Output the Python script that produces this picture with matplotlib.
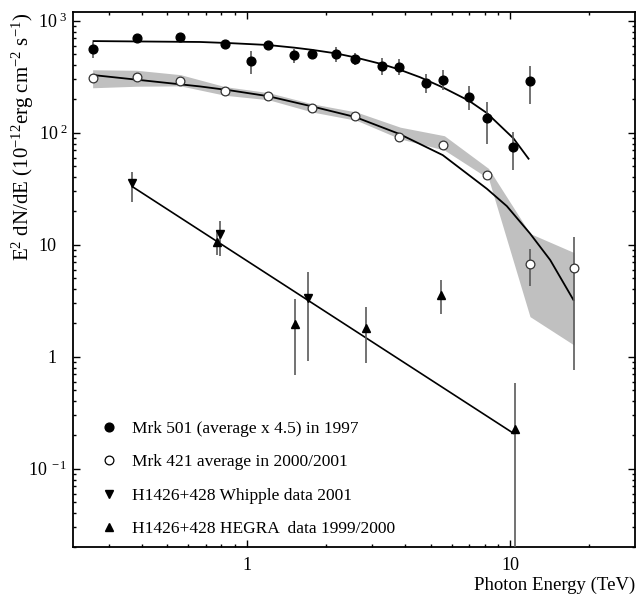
import matplotlib
matplotlib.use('Agg')
import matplotlib.pyplot as plt
from matplotlib.ticker import FixedLocator, FixedFormatter, LogLocator, NullFormatter
from matplotlib.lines import Line2D

plt.rcParams['font.family'] = ['Liberation Serif', 'DejaVu Serif']
plt.rcParams['mathtext.fontset'] = 'custom'
plt.rcParams['mathtext.rm'] = 'Liberation Serif'
plt.rcParams['mathtext.it'] = 'Liberation Serif:italic'
plt.rcParams['mathtext.bf'] = 'Liberation Serif:bold'

# ---------------- data ----------------
# Mrk 501 (average x 4.5) in 1997
mrk501_E = [0.261, 0.382, 0.560, 0.826, 1.036, 1.205, 1.512, 1.766, 2.18, 2.585,
            3.27, 3.79, 4.78, 5.55, 6.98, 8.16, 10.3, 11.9]
mrk501_F = [560, 705, 709, 618, 436, 610, 497, 507, 507, 454,
            391, 385, 279, 297, 207, 135, 74.3, 287]
mrk501_lo = [460, 675, 680, 590, 333, 585, 417, 462, 430, 404,
             327, 327, 225, 242, 158, 80, 46.8, 179]
mrk501_hi = [640, 735, 740, 650, 541, 640, 559, 550, 586, 512,
             462, 452, 334, 363, 260, 190, 101, 393]

# Mrk 501 fit curve
fit501_E = [0.262, 0.665, 0.864, 1.205, 1.514, 1.766, 2.18, 2.585, 3.27, 3.79,
            4.55, 5.55, 6.98, 8.16, 10.3, 11.75]
fit501_F = [658, 646, 631, 607, 575, 550, 511, 470, 409, 367,
            313, 254, 193, 150, 89, 58.6]

# Mrk 421 average in 2000/2001
mrk421_E = [0.260, 0.382, 0.560, 0.826, 1.205, 1.766, 2.585, 3.79, 5.55, 8.16, 11.9, 17.5]
mrk421_F = [305, 317, 290, 235, 212, 167, 141, 91.4, 78.4, 42.2, 6.67, 6.19]
mrk421_lo = [290, 302, 276, 224, 202, 159, 134, 87, 74.5, 39.5, 4.27, 0.76]
mrk421_hi = [320, 332, 304, 246, 222, 175, 148, 96, 82.5, 45, 9.1, 11.6]

# Mrk 421 fit curve
fit421_E = [0.262, 0.665, 0.864, 1.205, 1.766, 2.585, 3.79, 5.55, 8.16, 9.72, 11.9, 14.2, 17.4]
fit421_F = [327, 259, 239, 212, 172, 138, 97.7, 63.1, 31.6, 22.1, 12.6, 7.3, 3.21]

# Mrk 421 uncertainty band
band_E = [0.26, 0.382, 0.56, 0.826, 1.21, 1.775, 2.61, 3.83, 5.63, 8.28, 11.9, 17.5]
band_hi = [365, 361, 330, 258, 228, 181, 153, 112, 94, 48, 12.6, 8.5]
band_lo = [252, 260, 262, 216, 197, 153, 129, 88, 70, 39, 2.28, 1.27]

# H1426+428 Whipple data 2001
whip_E = [0.368, 0.79, 1.708]
whip_F = [35.8, 12.4, 3.36]
whip_lo = [23.9, 7.9, 0.92]
whip_hi = [44.9, 16.4, 5.74]

# H1426+428 HEGRA data 1999/2000
hegra_E = [0.773, 1.524, 2.84, 5.47, 10.4]
hegra_F = [10.6, 1.96, 1.79, 3.56, 0.225]
hegra_lo = [8.1, 0.687, 0.873, 2.39, 0.001]
hegra_hi = [13.5, 3.27, 2.76, 4.84, 0.578]

# H1426+428 power-law fit
fitH_E = [0.368, 10.3]
fitH_F = [33.0, 0.207]

legend_labels = ['Mrk 501 (average x 4.5) in 1997',
                 'Mrk 421 average in 2000/2001',
                 'H1426+428 Whipple data 2001',
                 'H1426+428 HEGRA  data 1999/2000']

ytick_vals = [0.1, 1, 10, 100, 1000]
ytick_labels = [r'10$^{\ -1}$', '1', '10', r'10$^{\ 2}$', r'10$^{\ 3}$']
xtick_vals = [1, 10]
xtick_labels = ['1', '10']

# ---------------- plot ----------------
fig = plt.figure(figsize=(6.38, 5.95), dpi=100)
ax = fig.add_axes([0.1144, 0.0807, 0.8809, 0.8991])
ax.set_xscale('log')
ax.set_yscale('log')
ax.set_xlim(0.219, 29.8)
ax.set_ylim(0.02, 1196)

ecol = '#5a5a5a'

ax.fill_between(band_E, band_lo, band_hi, color='#c0c0c0', lw=0, zorder=1)

ax.plot(fit501_E, fit501_F, color='k', lw=1.3, zorder=2)
ax.plot(fit421_E, fit421_F, color='k', lw=1.3, zorder=2)
ax.plot(fitH_E, fitH_F, color='k', lw=1.2, zorder=2)

def err(F, lo, hi):
    return [[f - l for f, l in zip(F, lo)], [h - f for f, h in zip(F, hi)]]

ax.errorbar(mrk501_E, mrk501_F, yerr=err(mrk501_F, mrk501_lo, mrk501_hi), fmt='none',
            ecolor=ecol, elinewidth=1.2, capsize=0, zorder=3)
ax.errorbar(mrk421_E, mrk421_F, yerr=err(mrk421_F, mrk421_lo, mrk421_hi), fmt='none',
            ecolor=ecol, elinewidth=1.2, capsize=0, zorder=3)
ax.errorbar(whip_E, whip_F, yerr=err(whip_F, whip_lo, whip_hi), fmt='none',
            ecolor=ecol, elinewidth=1.2, capsize=0, zorder=3)
ax.errorbar(hegra_E, hegra_F, yerr=err(hegra_F, hegra_lo, hegra_hi), fmt='none',
            ecolor=ecol, elinewidth=1.2, capsize=0, zorder=3)

ms = 6.3
ax.plot(mrk501_E, mrk501_F, 'o', ls='none', color='k', ms=ms, zorder=4)
ax.plot(mrk421_E, mrk421_F, 'o', ls='none', mfc='white', mec='#333333', mew=0.9, ms=ms, zorder=4)
ax.plot(whip_E, whip_F, 'v', ls='none', color='k', ms=ms, zorder=4)
ax.plot(hegra_E, hegra_F, '^', ls='none', color='k', ms=ms, zorder=4)

handles = [Line2D([], [], marker='o', ls='none', color='k', ms=ms),
           Line2D([], [], marker='o', ls='none', mfc='white', mec='k', mew=0.9, ms=ms),
           Line2D([], [], marker='v', ls='none', color='k', ms=ms),
           Line2D([], [], marker='^', ls='none', color='k', ms=ms)]
ax.legend(handles, legend_labels, loc='lower left', bbox_to_anchor=(0.0486, 0.018),
          frameon=False, fontsize=12.5, handlelength=1.0, handletextpad=0.82,
          labelspacing=1.0, borderpad=0, borderaxespad=0)

# ticks
ax.yaxis.set_major_locator(FixedLocator(ytick_vals))
ax.yaxis.set_major_formatter(FixedFormatter(ytick_labels))
ax.yaxis.set_minor_locator(LogLocator(base=10, subs=range(2, 10), numticks=20))
ax.yaxis.set_minor_formatter(NullFormatter())
ax.xaxis.set_major_locator(FixedLocator(xtick_vals))
ax.xaxis.set_major_formatter(FixedFormatter(xtick_labels))
ax.xaxis.set_minor_locator(LogLocator(base=10, subs=range(2, 10), numticks=20))
ax.xaxis.set_minor_formatter(NullFormatter())

ax.tick_params(which='both', direction='in', top=True, right=True, width=1.0)
ax.tick_params(which='major', length=5, labelsize=13)
ax.tick_params(which='minor', length=2.5)
ax.tick_params(axis='x', which='major', pad=7)
ax.tick_params(axis='y', which='major', pad=4)
for t, lab in zip(ax.yaxis.get_major_ticks(), ytick_labels):
    if '$' not in lab:
        t.set_pad(12)

for s in ax.spines.values():
    s.set_linewidth(1.3)

ax.set_xlabel('Photon Energy (TeV)', fontsize=13.5, ha='right', va='center')
ax.xaxis.set_label_coords(1.0, -0.071)
ax.set_ylabel(r'E$^{2}$ dN/dE (10$^{-12}$erg cm$^{-2}$ s$^{-1}$)', fontsize=15, loc='top')
ax.yaxis.set_label_coords(-0.066, 0.998)

fig.savefig('out.png', dpi=100)
